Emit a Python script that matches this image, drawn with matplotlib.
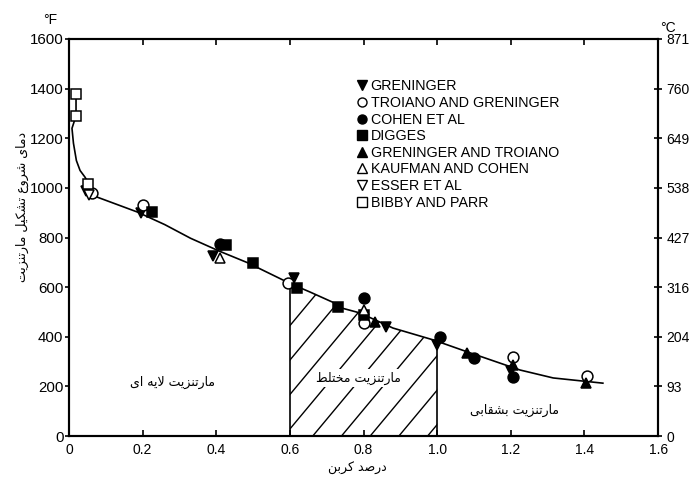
import numpy as np
import matplotlib
matplotlib.use("Agg")
import matplotlib.pyplot as plt
from matplotlib.lines import Line2D

# carbon content (wt %) and Ms temperature (deg F) per data source
greninger_x = [0.046, 0.196, 0.39, 0.61, 0.86, 1.0, 1.2]
greninger_y = [987, 899, 725, 637, 440, 365, 262]
troiano_greninger_x = [0.063, 0.20, 0.595, 0.80, 1.206, 1.408]
troiano_greninger_y = [979, 931, 617, 455, 318, 242]
cohen_x = [0.41, 0.80, 1.008, 1.10, 1.205]
cohen_y = [775, 556, 399, 314, 238]
digges_x = [0.226, 0.425, 0.50, 0.62, 0.73, 0.80]
digges_y = [903, 768, 697, 596, 520, 488]
greninger_troiano_x = [0.83, 1.08, 1.205, 1.405]
greninger_troiano_y = [458, 334, 286, 215]
kaufman_cohen_x = [0.41, 0.80]
kaufman_cohen_y = [717, 508]
esser_x = [0.055]
esser_y = [970]
bibby_parr_x = [0.019, 0.019, 0.052]
bibby_parr_y = [1380, 1290, 1015]

# hand-drawn trend curve
curve_x = [0.019, 0.019, 0.008, 0.012, 0.02, 0.03, 0.043, 0.076, 0.185, 0.26, 0.33,
           0.41, 0.484, 0.6, 0.655, 0.715, 0.74, 0.79, 0.88, 0.99, 1.08, 1.225, 1.315, 1.45]
curve_y = [1380, 1290, 1240, 1180, 1110, 1070, 1044, 963, 903, 852, 797,
           744, 699, 615, 580, 540, 516, 496, 435, 387, 340, 266, 234, 213]

fahrenheit_ticks = [0, 200, 400, 600, 800, 1000, 1200, 1400, 1600]
celsius_labels = ["0", "93", "204", "316", "427", "538", "649", "760", "871"]
x_ticks = [0, 0.2, 0.4, 0.6, 0.8, 1.0, 1.2, 1.4, 1.6]
x_labels = ["0", "0.2", "0.4", "0.6", "0.8", "1.0", "1.2", "1.4", "1.6"]

mixed_lo, mixed_hi = 0.6, 1.0

# --- minimal Persian shaping (contextual forms + RTL order) ---
FORMS = {
    'ا': ('\uFE8D', '\uFE8E', None, None),
    'ب': ('\uFE8F', '\uFE90', '\uFE91', '\uFE92'),
    'ت': ('\uFE95', '\uFE96', '\uFE97', '\uFE98'),
    'خ': ('\uFEA5', '\uFEA6', '\uFEA7', '\uFEA8'),
    'د': ('\uFEA9', '\uFEAA', None, None),
    'ر': ('\uFEAD', '\uFEAE', None, None),
    'ز': ('\uFEAF', '\uFEB0', None, None),
    'ش': ('\uFEB5', '\uFEB6', '\uFEB7', '\uFEB8'),
    'ص': ('\uFEB9', '\uFEBA', '\uFEBB', '\uFEBC'),
    'ط': ('\uFEC1', '\uFEC2', '\uFEC3', '\uFEC4'),
    'ع': ('\uFEC9', '\uFECA', '\uFECB', '\uFECC'),
    'ق': ('\uFED5', '\uFED6', '\uFED7', '\uFED8'),
    'ک': ('\uFB8E', '\uFB8F', '\uFB90', '\uFB91'),
    'ل': ('\uFEDD', '\uFEDE', '\uFEDF', '\uFEE0'),
    'م': ('\uFEE1', '\uFEE2', '\uFEE3', '\uFEE4'),
    'ن': ('\uFEE5', '\uFEE6', '\uFEE7', '\uFEE8'),
    'ه': ('\uFEE9', '\uFEEA', '\uFEEB', '\uFEEC'),
    'و': ('\uFEED', '\uFEEE', None, None),
    'ی': ('\uFBFC', '\uFBFD', '\uFBFE', '\uFBFF'),
}


def joins_next(c):
    return c in FORMS and FORMS[c][2] is not None


def fa(text):
    res = []
    i, n = 0, len(text)
    while i < n:
        c = text[i]
        if c not in FORMS:
            res.append(c)
            i += 1
            continue
        jp = i > 0 and joins_next(text[i - 1])
        if c == 'ل' and i + 1 < n and text[i + 1] == 'ا':
            res.append('\uFEFC' if jp else '\uFEFB')
            i += 2
            continue
        jn = joins_next(c) and i + 1 < n and text[i + 1] in FORMS
        iso, fin, ini, med = FORMS[c]
        if jp and jn:
            res.append(med)
        elif jp:
            res.append(fin)
        elif jn:
            res.append(ini)
        else:
            res.append(iso)
        i += 1
    return ''.join(reversed(res))


plt.rcParams['font.family'] = ['Liberation Sans', 'DejaVu Sans']
FA = ['DejaVu Sans']

fig = plt.figure(figsize=(6.91, 4.82), dpi=100)
ax = fig.add_axes([0.0999, 0.0954, 0.8525, 0.8237])
ax.set_xlim(0, 1.6)
ax.set_ylim(0, 1600)

# hatched mixed-martensite band under the curve
cx = np.array(curve_x[2:])
cy = np.array(curve_y[2:])
band_x = np.concatenate([[mixed_lo], cx[(cx > mixed_lo) & (cx < mixed_hi)], [mixed_hi]])
band_y = np.interp(band_x, cx, cy)
poly = ax.fill_between(band_x, 0, band_y, facecolor='none', edgecolor='none')
clip = poly.get_paths()[0]
slope = 1780.0
for c0 in np.arange(0.35, 1.05, 0.078):
    hx = np.array([c0, c0 + 0.5])
    ln, = ax.plot(hx, slope * (hx - c0), color='black', lw=1.0, zorder=2)
    ln.set_clip_path(clip, ax.transData)
ax.vlines([mixed_lo, mixed_hi], 0,
          [np.interp(mixed_lo, cx, cy), np.interp(mixed_hi, cx, cy)],
          color='black', lw=1.2, zorder=2)

ax.plot(curve_x, curve_y, color='black', lw=1.2, zorder=3)

ms = 7.8
series = [
    (greninger_x, greninger_y, 'v', 'black', "GRENINGER"),
    (troiano_greninger_x, troiano_greninger_y, 'o', 'white', "TROIANO AND GRENINGER"),
    (cohen_x, cohen_y, 'o', 'black', "COHEN ET AL"),
    (digges_x, digges_y, 's', 'black', "DIGGES"),
    (greninger_troiano_x, greninger_troiano_y, '^', 'black', "GRENINGER AND TROIANO"),
    (kaufman_cohen_x, kaufman_cohen_y, '^', 'white', "KAUFMAN AND COHEN"),
    (esser_x, esser_y, 'v', 'white', "ESSER ET AL"),
    (bibby_parr_x, bibby_parr_y, 's', 'white', "BIBBY AND PARR"),
]
handles = []
for xs, ys, mk, fc, lab in series:
    ax.plot(xs, ys, linestyle='none', marker=mk, markersize=ms,
            markerfacecolor=fc, markeredgecolor='black', markeredgewidth=1.1, zorder=4)
    handles.append(Line2D([], [], linestyle='none', marker=mk, markersize=6.5,
                          markerfacecolor=fc, markeredgecolor='black',
                          markeredgewidth=1.0, label=lab))

ax.legend(handles=handles, loc='upper left', bbox_to_anchor=(0.49, 0.898),
          frameon=False, fontsize=10.3, handlelength=0.6, handletextpad=0.3,
          labelspacing=0.18, borderpad=0, borderaxespad=0)

for s in ax.spines.values():
    s.set_linewidth(1.5)

ax.set_xticks(x_ticks)
ax.set_xticklabels(x_labels, fontsize=10)
ax.set_yticks(fahrenheit_ticks)
ax.set_yticklabels([str(v) for v in fahrenheit_ticks], fontsize=10.8)
ax.tick_params(axis='x', direction='in', length=4, width=1.2, pad=5, top=True)
ax.tick_params(axis='y', direction='out', length=3, width=1.2, pad=1)

ax2 = ax.twinx()
ax2.set_ylim(ax.get_ylim())
ax2.set_yticks(fahrenheit_ticks)
ax2.set_yticklabels(celsius_labels, fontsize=10)
ax2.tick_params(axis='y', direction='inout', length=6, width=1.2, pad=3)
for s in ax2.spines.values():
    s.set_linewidth(1.5)

# region names
ax.text(0.28, 218, fa("مارتنزیت لایه ای"), family=FA, fontsize=9, ha='center', va='center')
ax.text(0.785, 234, fa("مارتنزیت مختلط"), family=FA, fontsize=9, ha='center', va='center',
        zorder=5, bbox=dict(facecolor='white', edgecolor='none', pad=1.5))
ax.text(1.21, 105, fa("مارتنزیت بشقابی"), family=FA, fontsize=9, ha='center', va='center')

fig.text(0.032, 0.57, fa("دمای شروع تشکیل مارتنزیت"), family=FA, fontsize=9,
         rotation=90, ha='center', va='center')
fig.text(0.517, 0.029, fa("درصد کربن"), family=FA, fontsize=9, ha='center', va='center')
fig.text(0.072, 0.958, "°F", fontsize=10, ha='center', va='center')
fig.text(0.967, 0.942, "°C", fontsize=10, ha='center', va='center')

fig.savefig("out.png", dpi=100)
